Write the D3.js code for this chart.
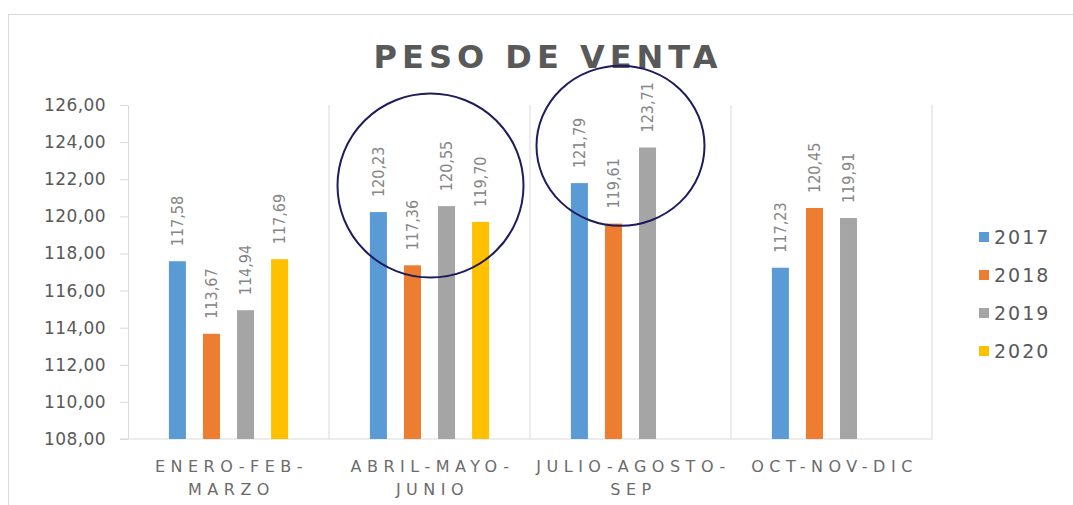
<!DOCTYPE html>
<html>
<head>
<meta charset="utf-8">
<script src="https://cdn.jsdelivr.net/npm/d3@7"></script>
<style>
  body{margin:0;background:#fff;}
  svg{display:block;font-family:"DejaVu Sans",sans-serif;}
</style>
</head>
<body>
<svg id="drawing_region"></svg>
<script>
// data
const categories = ["ENERO-FEB-MARZO","ABRIL-MAYO-JUNIO","JULIO-AGOSTO-SEP","OCT-NOV-DIC"];
const categoryLines = [["ENERO-FEB-","MARZO"],["ABRIL-MAYO-","JUNIO"],["JULIO-AGOSTO-","SEP"],["OCT-NOV-DIC"]];
const years = ["2017","2018","2019","2020"];
const v2017 = [117.58,120.23,121.79,117.23];
const v2018 = [113.67,117.36,119.61,120.45];
const v2019 = [114.94,120.55,123.71,119.91];
const v2020 = [117.69,119.70,null,null];
const yTicks = [108,110,112,114,116,118,120,122,124,126];
const colors = ["#5b9bd5","#ed7d31","#a5a5a5","#ffc000"];
// hand drawn circles: centred on a category / value
const marks = [
    {cat:"ABRIL-MAYO-JUNIO",value:121.66,dx:1,rx:93,ry:92},
    {cat:"JULIO-AGOSTO-SEP",value:123.8,dx:-10,rx:84,ry:80}
];

const series = [v2017,v2018,v2019,v2020];
const fmt = v=>d3.format(".2f")(v).replace(".",",");

const config = {width:1073,height:505,margin:{top:105,left:128,bottom:66,right:141}};
const inner_width = config.width-config.margin.left-config.margin.right;
const inner_height = config.height-config.margin.top-config.margin.bottom;

const svg = d3.select("#drawing_region")
    .attr("width",config.width)
    .attr("height",config.height);

// chart frame
svg.append("rect")
    .attr("x",8.5).attr("y",14.5)
    .attr("width",config.width).attr("height",config.height)
    .attr("fill","#fff")
    .attr("stroke","#d9d9d9");

svg.append("text")
    .attr("x",548).attr("y",68)
    .attr("text-anchor","middle")
    .attr("fill","#595959")
    .attr("font-size","32px")
    .attr("font-weight","bold")
    .attr("letter-spacing","5px")
    .text("PESO DE VENTA");

const chart = svg.append("g")
    .attr("transform",`translate(${config.margin.left},${config.margin.top})`);

const xscale = d3.scaleBand().domain(categories).range([0,inner_width]);
const x1 = d3.scaleBand().domain(years).range([0,xscale.bandwidth()]).paddingInner(0.5).paddingOuter(1.2);
const yscale = d3.scaleLinear().domain([108,126]).range([inner_height,0]);

// y axis
const yaxis = chart.append("g")
    .call(d3.axisLeft(yscale).tickValues(yTicks).tickFormat(fmt).tickSize(8).tickSizeOuter(0).tickPadding(14));
yaxis.select(".domain").attr("stroke","#d9d9d9");
yaxis.selectAll(".tick line").attr("stroke","#d9d9d9");
yaxis.selectAll(".tick text")
    .attr("fill","#595959")
    .attr("font-size","17px")
    .attr("font-family","DejaVu Sans")
    .attr("letter-spacing","0.4px");

// category separators
chart.append("g").selectAll("line")
    .data(categories)
    .join("line")
    .attr("x1",d=>xscale(d)+xscale.bandwidth())
    .attr("x2",d=>xscale(d)+xscale.bandwidth())
    .attr("y1",0).attr("y2",inner_height)
    .attr("stroke","#d9d9d9");

chart.append("line")
    .attr("x1",-8).attr("x2",inner_width)
    .attr("y1",inner_height).attr("y2",inner_height)
    .attr("stroke","#d9d9d9");

// bars
const rows = [];
categories.forEach((c,i)=>{
    years.forEach((y,j)=>{
        if(series[j][i]!=null) rows.push({cat:c,year:y,value:series[j][i],color:colors[j]});
    });
});

chart.append("g").selectAll("rect")
    .data(rows)
    .join("rect")
    .attr("x",d=>xscale(d.cat)+x1(d.year))
    .attr("y",d=>yscale(d.value))
    .attr("width",x1.bandwidth())
    .attr("height",d=>inner_height-yscale(d.value))
    .attr("fill",d=>d.color);

chart.append("g").selectAll("text")
    .data(rows)
    .join("text")
    .attr("transform",d=>`translate(${xscale(d.cat)+x1(d.year)+x1.bandwidth()/2},${yscale(d.value)-15}) rotate(-90)`)
    .attr("dy","0.36em")
    .attr("fill","#868686")
    .attr("font-size","16px")
    .attr("font-family","DejaVu Sans Condensed")
    .text(d=>fmt(d.value));

// category labels
const xlab = chart.append("g").selectAll("text")
    .data(categories)
    .join("text")
    .attr("text-anchor","middle")
    .attr("fill","#6b6b6b")
    .attr("font-size","16px")
    .attr("letter-spacing","5.5px");
xlab.selectAll("tspan")
    .data((d,i)=>categoryLines[i].map(t=>({t:t,x:xscale(d)+xscale.bandwidth()/2})))
    .join("tspan")
    .attr("x",d=>d.x+3)
    .attr("y",(d,i)=>inner_height+33+i*23)
    .text(d=>d.t);

// annotation circles
chart.append("g").selectAll("ellipse")
    .data(marks)
    .join("ellipse")
    .attr("cx",d=>xscale(d.cat)+xscale.bandwidth()/2+d.dx)
    .attr("cy",d=>yscale(d.value))
    .attr("rx",d=>d.rx)
    .attr("ry",d=>d.ry)
    .attr("fill","none")
    .attr("stroke","#1e1b5e")
    .attr("stroke-width",2);

// legend
const legend = svg.append("g")
    .attr("transform","translate(979,237)");
const item = legend.selectAll("g")
    .data(years)
    .join("g")
    .attr("transform",(d,i)=>`translate(0,${i*38})`);
item.append("rect")
    .attr("x",0).attr("y",-5)
    .attr("width",10).attr("height",10)
    .attr("fill",(d,i)=>colors[i]);
item.append("text")
    .attr("x",15).attr("dy","0.36em")
    .attr("fill","#595959")
    .attr("font-size","19px")
    .attr("letter-spacing","2px")
    .text(d=>d);
</script>
</body>
</html>
